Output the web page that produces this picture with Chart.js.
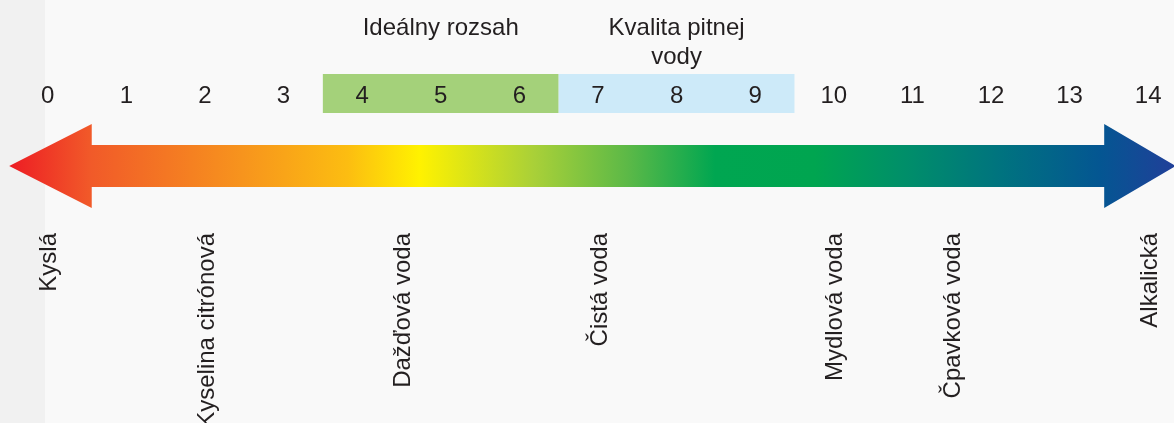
<!DOCTYPE html>
<html><head><meta charset="utf-8">
<script src="https://cdn.jsdelivr.net/npm/chart.js@4/dist/chart.umd.min.js"></script>
<style>html,body{margin:0;padding:0;background:#f9f9f9;overflow:hidden}#wrap{width:1174px;height:423px}</style>
</head><body><div id="wrap"><canvas id="c" width="1174" height="423"></canvas></div>
<script>
// ---- data ----
const phTicks = [0, 1, 2, 3, 4, 5, 6, 7, 8, 9, 10, 11, 12, 13, 14];
const rangeNames = ['Ideálny rozsah', ['Kvalita pitnej', 'vody']];
const rangeFrom = [3.5, 6.5];
const rangeTo = [6.5, 9.5];
const substanceNames = ['Kyslá', 'Kyselina citrónová', 'Dažďová voda', 'Čistá voda', 'Mydlová voda', 'Čpavková voda', 'Alkalická'];
const substancePh = [0, 2, 4.5, 7, 10, 11.5, 14];

// ---- style / layout ----
const FONT = '24px "Liberation Sans", Arial, sans-serif';
const TEXT = '#231f20';
const rangeColors = ['#a4d17a', '#cdeaf9'];
const L = {
  rowY: 93.5, rowH: 39,
  tickBase: 103, titleBase: 35, titleLineH: 28.5,
  labelEnd: 233, labelShift: 8.6,
  arrow: { tipL: -0.49, headL: 0.56, headR: 13.44, tipR: 14.35, shaftTop: 145, shaftBot: 187, headTop: 124, headBot: 208, midY: 166 }
};
const arrowStops = [
  [0, '#ed1c24'], [0.07, '#f15a29'], [0.2, '#f7941d'], [0.29, '#fcbd11'],
  [0.352, '#fff200'], [0.45, '#a9d038'], [0.53, '#5cb947'], [0.605, '#00a651'],
  [0.69, '#00a550'], [0.77, '#008e6a'], [0.85, '#00737f'], [0.935, '#045692'], [1, '#213f99']
];

const phPlugin = {
  id: 'ph',
  beforeDraw(chart) {
    const ctx = chart.ctx;
    ctx.save();
    ctx.fillStyle = '#f9f9f9';
    ctx.fillRect(0, 0, chart.width, chart.height);
    ctx.fillStyle = '#f1f1f1';
    ctx.fillRect(0, 0, 45, chart.height);
    ctx.restore();
  },
  beforeDatasetsDraw(chart) {
    const ctx = chart.ctx, xs = chart.scales.x, a = L.arrow;
    const xl = xs.getPixelForValue(a.tipL), xhl = xs.getPixelForValue(a.headL);
    const xhr = xs.getPixelForValue(a.headR), xr = xs.getPixelForValue(a.tipR);
    const g = ctx.createLinearGradient(xl, 0, xr, 0);
    arrowStops.forEach(s => g.addColorStop(s[0], s[1]));
    ctx.save();
    ctx.beginPath();
    ctx.moveTo(xl, a.midY);
    ctx.lineTo(xhl, a.headTop);
    ctx.lineTo(xhl, a.shaftTop);
    ctx.lineTo(xhr, a.shaftTop);
    ctx.lineTo(xhr, a.headTop);
    ctx.lineTo(xr, a.midY);
    ctx.lineTo(xhr, a.headBot);
    ctx.lineTo(xhr, a.shaftBot);
    ctx.lineTo(xhl, a.shaftBot);
    ctx.lineTo(xhl, a.headBot);
    ctx.closePath();
    ctx.fillStyle = g;
    ctx.fill();
    ctx.restore();
  },
  afterDatasetsDraw(chart) {
    const ctx = chart.ctx, xs = chart.scales.x;
    ctx.save();
    ctx.font = FONT;
    ctx.fillStyle = TEXT;
    ctx.textBaseline = 'alphabetic';
    ctx.textAlign = 'center';
    phTicks.forEach(v => ctx.fillText(String(v), xs.getPixelForValue(v), L.tickBase));
    rangeNames.forEach((name, i) => {
      const lines = Array.isArray(name) ? name : [name];
      const cx = xs.getPixelForValue((rangeFrom[i] + rangeTo[i]) / 2);
      lines.forEach((ln, j) => ctx.fillText(ln, cx, L.titleBase + j * L.titleLineH));
    });
    ctx.textAlign = 'right';
    substanceNames.forEach((name, i) => {
      const cx = xs.getPixelForValue(substancePh[i]);
      ctx.save();
      ctx.translate(cx + L.labelShift, L.labelEnd);
      ctx.rotate(-Math.PI / 2);
      ctx.fillText(name, 0, 0);
      ctx.restore();
    });
    ctx.restore();
  }
};

new Chart(document.getElementById('c'), {
  type: 'bar',
  data: {
    datasets: [{
      data: rangeFrom.map((f, i) => ({ x: [f, rangeTo[i]], y: L.rowY })),
      backgroundColor: rangeColors,
      borderWidth: 0,
      barThickness: L.rowH,
      inflateAmount: 0
    }]
  },
  options: {
    indexAxis: 'y',
    responsive: false,
    animation: false,
    events: [],
    layout: { padding: 0 },
    scales: {
      x: { type: 'linear', min: -0.607, max: 14.328, display: false, grid: { display: false } },
      y: { type: 'linear', min: 0, max: 423, reverse: true, offset: false, display: false, grid: { display: false } }
    },
    plugins: { legend: { display: false }, tooltip: { enabled: false } }
  },
  plugins: [phPlugin]
});
</script>
</body></html>
